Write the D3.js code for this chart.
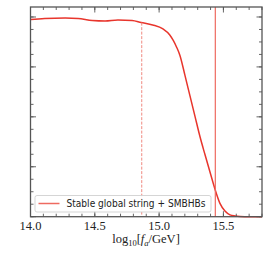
<!DOCTYPE html>
<html><head><meta charset="utf-8">
<script src="https://cdn.jsdelivr.net/npm/d3@7"></script>
<style>body{margin:0;background:#fff}svg{display:block}</style>
</head><body>
<svg id="c" width="270" height="254"></svg>
<script>
const curveX = [14.00,14.11,14.27,14.37,14.48,14.58,14.68,14.79,14.86,14.95,15.03,15.083,15.11,15.137,15.162,15.201,15.240,15.279,15.318,15.356,15.395,15.434,15.473,15.512,15.551,15.590,15.629,15.70,15.80];
const curveY = [3.95,3.97,3.98,3.97,3.93,3.92,3.94,3.93,3.89,3.84,3.76,3.64,3.53,3.39,3.23,2.83,2.42,2.01,1.60,1.25,0.90,0.555,0.268,0.114,0.038,0.014,0.004,0.0,0.0];
const dashedX = 14.865;
const solidX = 15.437;
const xMajor = [14.0,14.5,15.0,15.5];
const xTickLabels = ["14.0","14.5","15.0","15.5"];
const legendLabel = "Stable global string + SMBHBs";

const svg = d3.select("#c");
const L=30.5,R=262,T=7,B=216.7;
const x = d3.scaleLinear().domain([14.0,15.8]).range([L,R]);
const y = d3.scaleLinear().domain([0,4.2]).range([B,T]);
const axCol="#555";

const xMinor = d3.range(14.0,15.8001,0.1).map(v=>+v.toFixed(2));
const yMajor = [0,1,2,3,4];
const yMinor = d3.range(0,4.2001,0.25);

// curve
const pts = curveX.map((v,i)=>[v,curveY[i]]);
svg.append("path").datum(pts)
  .attr("d", d3.line().x(d=>x(d[0])).y(d=>y(d[1])).curve(d3.curveMonotoneX))
  .attr("fill","none").attr("stroke","#e8352c").attr("stroke-width",1.5);

// dashed line from curve
const yAtDash = d3.scaleLinear().domain(curveX).range(curveY)(dashedX);
svg.append("line").attr("x1",x(dashedX)).attr("x2",x(dashedX)).attr("y1",y(yAtDash)).attr("y2",B)
  .attr("stroke","#f08a80").attr("stroke-width",1).attr("stroke-dasharray","3,1.5");
svg.append("line").attr("x1",x(solidX)).attr("x2",x(solidX)).attr("y1",T).attr("y2",B)
  .attr("stroke","#ee6a60").attr("stroke-width",1.2);

// ticks
const g = svg.append("g").attr("stroke",axCol);
function tk(vals,len,side){
  vals.forEach(v=>{
    if(side==="b") g.append("line").attr("x1",x(v)).attr("x2",x(v)).attr("y1",B).attr("y2",B-len);
    if(side==="t") g.append("line").attr("x1",x(v)).attr("x2",x(v)).attr("y1",T).attr("y2",T+len);
    if(side==="l") g.append("line").attr("y1",y(v)).attr("y2",y(v)).attr("x1",L).attr("x2",L+len);
    if(side==="r") g.append("line").attr("y1",y(v)).attr("y2",y(v)).attr("x1",R).attr("x2",R-len);
  });
}
g.attr("stroke-width",0.9);
["b","t"].forEach(s=>{tk(xMinor,3,s);tk(xMajor,5.5,s);});
["l","r"].forEach(s=>{tk(yMinor,3,s);tk(yMajor,5.5,s);});
svg.append("rect").attr("x",L).attr("y",T).attr("width",R-L).attr("height",B-T)
  .attr("fill","none").attr("stroke",axCol).attr("stroke-width",1.3);

// tick labels
svg.selectAll(".xl").data(xMajor).enter().append("text")
  .attr("x",d=>x(d)).attr("y",229.5).attr("text-anchor","middle")
  .attr("font-family","'Liberation Serif', serif").attr("font-size",12.5).attr("fill","#222")
  .text((d,i)=>xTickLabels[i]);

// xlabel
const xl = svg.append("text").attr("x",146).attr("y",243).attr("text-anchor","middle")
  .attr("font-family","'Liberation Serif', serif").attr("font-size",12.5).attr("fill","#222");
xl.append("tspan").text("log");
xl.append("tspan").attr("font-size",8.5).attr("dy",2.5).text("10");
xl.append("tspan").attr("dy",-2.5).text("[");
xl.append("tspan").attr("font-style","italic").text("f");
xl.append("tspan").attr("font-style","italic").attr("font-size",8.5).attr("dy",2.5).text("a");
xl.append("tspan").attr("dy",-2.5).text("/GeV]");

// legend
svg.append("rect").attr("x",35).attr("y",195.5).attr("width",176).attr("height",16.5).attr("rx",2)
  .attr("fill","#fff").attr("fill-opacity",0.85).attr("stroke","#d0d0d0").attr("stroke-width",0.9);
svg.append("line").attr("x1",38.5).attr("x2",59.5).attr("y1",203.5).attr("y2",203.5)
  .attr("stroke","#ee6a60").attr("stroke-width",1.5);
svg.append("text").attr("x",66.5).attr("y",207).attr("font-family","'DejaVu Sans', sans-serif")
  .attr("font-size",10).attr("fill","#222").attr("textLength",139).attr("lengthAdjust","spacingAndGlyphs")
  .text(legendLabel);
</script>
</body></html>
